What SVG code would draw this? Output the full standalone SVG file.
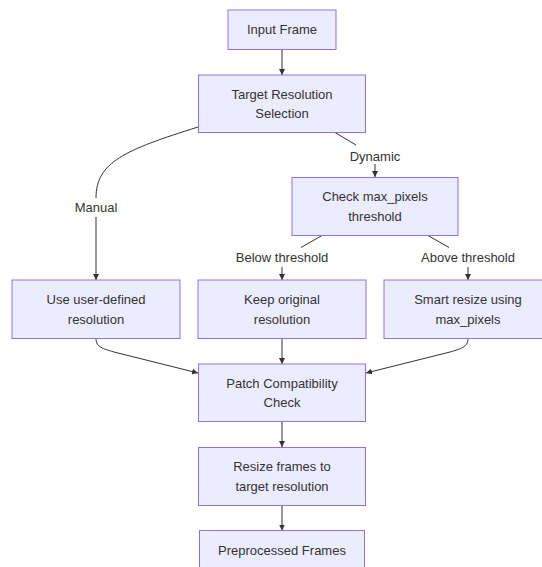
<svg xmlns="http://www.w3.org/2000/svg" width="542" height="567" viewBox="0 0 542 567">
<style>
.node rect{fill:#ECECFF;stroke:#9370DB;stroke-width:1}
text{font-family:"Liberation Sans",Arial,sans-serif;font-size:13px;fill:#333;text-anchor:middle}
.edge{fill:none;stroke:#333;stroke-width:1}
</style>
<defs>
<marker id="arr" viewBox="0 0 10 10" refX="10" refY="5" markerWidth="6" markerHeight="6" markerUnits="userSpaceOnUse" orient="auto">
<path d="M0,0 L10,5 L0,10 z" fill="#333"/>
</marker>
</defs>
<rect width="542" height="567" fill="#fff"/>
<g id="connectors">
<path class="edge" d="M282,49.5 L282,75" marker-end="url(#arr)"/>
<path class="edge" d="M198,127 C125,150 96,162 96,198"/>
<path class="edge" d="M96,217 L96,280" marker-end="url(#arr)"/>
<path class="edge" d="M335,132.5 L356,145"/>
<path class="edge" d="M375,164 L375,177" marker-end="url(#arr)"/>
<path class="edge" d="M322,235.5 L301,247.5"/>
<path class="edge" d="M282,267 L282,280" marker-end="url(#arr)"/>
<path class="edge" d="M428,235.5 L449,247.5"/>
<path class="edge" d="M468,267 L468,280" marker-end="url(#arr)"/>
<path class="edge" d="M96,338 C96,346 100,348 114,352 L198,373" marker-end="url(#arr)"/>
<path class="edge" d="M282,338.5 L282,364" marker-end="url(#arr)"/>
<path class="edge" d="M468,338 C468,346 464,348 450,352 L366,373" marker-end="url(#arr)"/>
<path class="edge" d="M282,421.5 L282,447" marker-end="url(#arr)"/>
<path class="edge" d="M282,505.5 L282,530.5" marker-end="url(#arr)"/>
<text x="375" y="160.5">Dynamic</text>
<text x="96" y="211.5">Manual</text>
<text x="282" y="262">Below threshold</text>
<text x="468" y="262">Above threshold</text>
</g>
<g id="input" class="node"><rect x="228" y="10" width="108" height="39.5"/><text x="282" y="34">Input Frame</text></g>
<g id="target" class="node"><rect x="198.5" y="75" width="167" height="57.5"/><text x="282" y="98.5">Target Resolution</text><text x="282" y="118">Selection</text></g>
<g id="check" class="node"><rect x="292" y="177.5" width="166" height="58"/><text x="375" y="201">Check max_pixels</text><text x="375" y="220.5">threshold</text></g>
<g id="user" class="node"><rect x="12" y="280" width="168" height="58.5"/><text x="96" y="304">Use user-defined</text><text x="96" y="323.5">resolution</text></g>
<g id="keep" class="node"><rect x="198" y="280" width="168" height="58.5"/><text x="282" y="304">Keep original</text><text x="282" y="323.5">resolution</text></g>
<g id="smart" class="node"><rect x="384" y="280" width="168" height="58.5"/><text x="468" y="304">Smart resize using</text><text x="468" y="323.5">max_pixels</text></g>
<g id="patch" class="node"><rect x="198.5" y="364" width="167" height="57.5"/><text x="282" y="387.5">Patch Compatibility</text><text x="282" y="407">Check</text></g>
<g id="resize" class="node"><rect x="198.5" y="447.5" width="167" height="58"/><text x="282" y="471">Resize frames to</text><text x="282" y="490.5">target resolution</text></g>
<g id="pre" class="node"><rect x="199.5" y="530.5" width="165" height="39.5"/><text x="282" y="555">Preprocessed Frames</text></g>
</svg>
